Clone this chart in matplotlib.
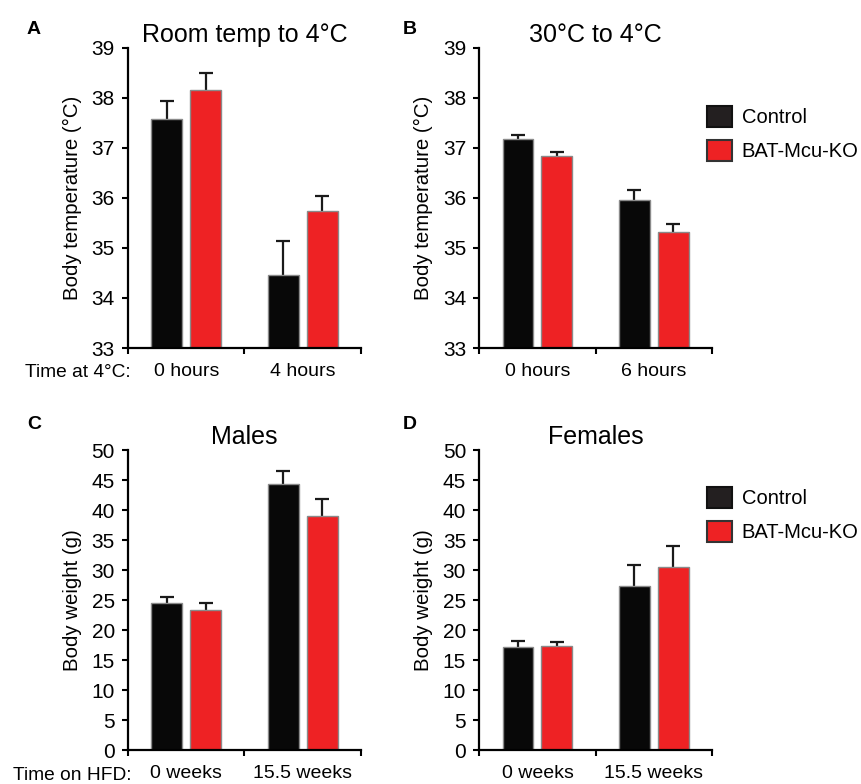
import matplotlib
matplotlib.use("Agg")
import matplotlib.pyplot as plt
from matplotlib.patches import Patch
import numpy as np

plt.rcParams['font.family'] = ['Liberation Sans', 'DejaVu Sans']

# ---- data ----
series_names = ['Control', 'BAT-Mcu-KO']

cats_A = ['0 hours', '4 hours']
ctrl_A = [37.58, 34.46]
ctrl_A_err = [0.36, 0.68]
ko_A = [38.15, 35.73]
ko_A_err = [0.35, 0.30]

cats_B = ['0 hours', '6 hours']
ctrl_B = [37.18, 35.95]
ctrl_B_err = [0.08, 0.20]
ko_B = [36.84, 35.31]
ko_B_err = [0.08, 0.17]

cats_C = ['0 weeks', '15.5 weeks']
ctrl_C = [24.5, 44.4]
ctrl_C_err = [1.0, 2.1]
ko_C = [23.4, 39.0]
ko_C_err = [1.05, 2.8]

cats_D = ['0 weeks', '15.5 weeks']
ctrl_D = [17.1, 27.3]
ctrl_D_err = [1.0, 3.55]
ko_D = [17.35, 30.55]
ko_D_err = [0.72, 3.5]

temp_ticks = [33, 34, 35, 36, 37, 38, 39]
weight_ticks = [0, 5, 10, 15, 20, 25, 30, 35, 40, 45, 50]

# ---- style ----
BLACK = '#080808'
RED = '#EE2224'
EDGE = '#8a8a8a'
ERR = '#1a1a1a'

W, H = 862, 784
fig = plt.figure(figsize=(W / 100, H / 100), dpi=100)


def px_axes(left, top, right, bottom):
    return fig.add_axes([left / W, 1 - bottom / H, (right - left) / W, (bottom - top) / H])


def panel(ax, cats, ctrl, ctrl_err, ko, ko_err, ticks, ylabel, title):
    ymin, ymax = ticks[0], ticks[-1]
    x = np.arange(len(cats)) + 0.5
    bw = 0.265
    for xs, vals, errs, col in [(x - 0.167, ctrl, ctrl_err, BLACK), (x + 0.167, ko, ko_err, RED)]:
        vals = np.array(vals)
        errs = np.array(errs)
        ax.bar(xs, vals - ymin, bottom=ymin, width=bw, color=col,
               edgecolor=EDGE, linewidth=1.0, zorder=2)
        ax.vlines(xs, vals, vals + errs, colors=ERR, linewidth=1.6, zorder=1)
        ax.plot(xs, vals + errs, linestyle='none', marker='_', markersize=10,
                markeredgewidth=1.6, color=ERR, zorder=1)
    ax.set_xlim(0, len(cats))
    ax.set_ylim(ymin, ymax)
    ax.set_yticks(ticks)
    ax.set_xticks(np.arange(len(cats) + 1))
    ax.set_xticklabels([])
    ax.set_xticks(x, minor=True)
    ax.set_xticklabels(cats, minor=True, fontsize=14)
    ax.tick_params(axis='x', which='minor', length=0, pad=11)
    ax.tick_params(axis='x', which='major', direction='out', length=4.5, width=1.5)
    ax.tick_params(axis='y', direction='out', length=4.5, width=1.5, labelsize=15, pad=5)
    for s in ['top', 'right']:
        ax.spines[s].set_visible(False)
    for s in ['left', 'bottom']:
        ax.spines[s].set_linewidth(1.6)
    ax.set_ylabel(ylabel, fontsize=14.7, labelpad=7)
    ax.set_title(title, fontsize=18, pad=4)


axA = px_axes(128, 47.7, 361, 348)
axB = px_axes(479.3, 47.7, 712, 348)
axC = px_axes(128, 450, 361, 750)
axD = px_axes(479.3, 450, 712, 750)

panel(axA, cats_A, ctrl_A, ctrl_A_err, ko_A, ko_A_err, temp_ticks,
      'Body temperature (°C)', 'Room temp to 4°C')
panel(axB, cats_B, ctrl_B, ctrl_B_err, ko_B, ko_B_err, temp_ticks,
      'Body temperature (°C)', '30°C to 4°C')
panel(axC, cats_C, ctrl_C, ctrl_C_err, ko_C, ko_C_err, weight_ticks,
      'Body weight (g)', 'Males')
panel(axD, cats_D, ctrl_D, ctrl_D_err, ko_D, ko_D_err, weight_ticks,
      'Body weight (g)', 'Females')

# panel letters
for lbl, (xp, yp) in zip('ABCD', [(27, 30), (403, 30), (27, 424), (403, 424)]):
    fig.text(xp / W, 1 - yp / H, lbl, fontsize=14, fontweight='bold', ha='left', va='center')

# row labels
fig.text(25 / W, 1 - 373 / H, 'Time at 4°C:', fontsize=13.8, ha='left', va='center')
fig.text(13 / W, 1 - 775 / H, 'Time on HFD:', fontsize=13.8, ha='left', va='center')

# legends
handles = [Patch(facecolor='#231F20', edgecolor='#111111', linewidth=1.5),
           Patch(facecolor=RED, edgecolor='#333333', linewidth=1.5)]
for ax, top in [(axB, 106), (axD, 487)]:
    ax.legend(handles, series_names, loc='upper left', bbox_to_anchor=(707 / W, 1 - top / H),
              bbox_transform=fig.transFigure, frameon=False, fontsize=14.5,
              handlelength=1.23, handleheight=1.25, handletextpad=0.5,
              labelspacing=0.6, borderpad=0, borderaxespad=0)

fig.savefig('out.png', dpi=100)
